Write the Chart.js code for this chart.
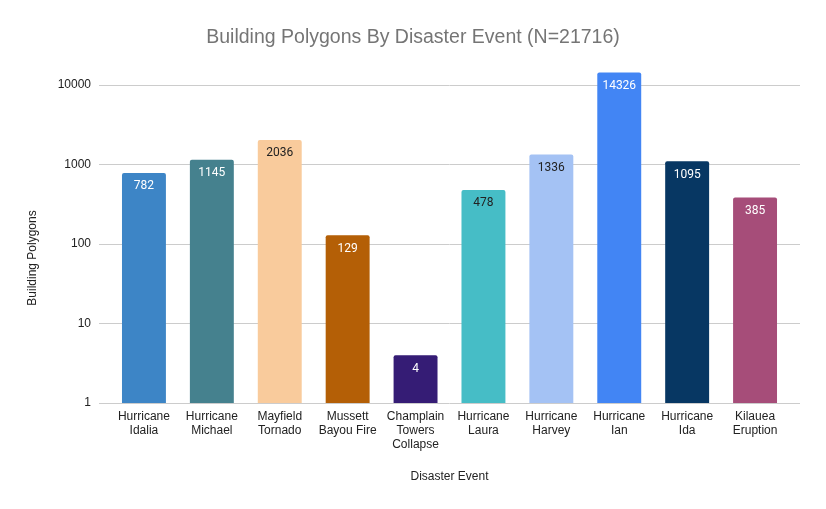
<!DOCTYPE html>
<html>
<head>
<meta charset="utf-8">
<script src="https://cdn.jsdelivr.net/npm/chart.js@4/dist/chart.umd.min.js"></script>
<style>
html,body{margin:0;padding:0;background:#fff;}
#wrap{width:826px;height:509px;position:relative;}
</style>
</head>
<body>
<div id="wrap"><canvas id="c" width="826" height="509"></canvas></div>
<script>
const chartTitle = "Building Polygons By Disaster Event (N=21716)";
const xAxisTitle = "Disaster Event";
const yAxisTitle = "Building Polygons";
const categories = [
  ["Hurricane","Idalia"],
  ["Hurricane","Michael"],
  ["Mayfield","Tornado"],
  ["Mussett","Bayou Fire"],
  ["Champlain","Towers","Collapse"],
  ["Hurricane","Laura"],
  ["Hurricane","Harvey"],
  ["Hurricane","Ian"],
  ["Hurricane","Ida"],
  ["Kilauea","Eruption"]
];
const values = [782, 1145, 2036, 129, 4, 478, 1336, 14326, 1095, 385];
const barColors = ["#3d85c6","#45818e","#f9cb9c","#b45f06","#351c75","#46bdc6","#a4c2f4","#4285f4","#073763","#a64d79"];
const labelColors = ["#ffffff","#ffffff","#222222","#ffffff","#ffffff","#222222","#222222","#ffffff","#ffffff","#ffffff"];
const yTicks = [1, 10, 100, 1000, 10000];

const gridPlugin = {
  id: 'gridPlugin',
  beforeDatasetsDraw(chart) {
    const ctx = chart.ctx, y = chart.scales.y, a = chart.chartArea;
    ctx.save();
    ctx.strokeStyle = '#cccccc';
    ctx.lineWidth = 1;
    yTicks.forEach(v => {
      const py = Math.round(y.getPixelForValue(v)) + 0.5;
      ctx.beginPath();
      ctx.moveTo(a.left - 11, py);
      ctx.lineTo(a.right + 11, py);
      ctx.stroke();
    });
    ctx.restore();
  },
  afterDatasetsDraw(chart) {
    const ctx = chart.ctx;
    const meta = chart.getDatasetMeta(0);
    ctx.save();
    ctx.font = '12px Roboto';
    ctx.textAlign = 'center';
    ctx.textBaseline = 'middle';
    meta.data.forEach((bar, i) => {
      ctx.fillStyle = labelColors[i];
      ctx.fillText(String(values[i]), bar.x, bar.y + 13.5);
    });
    // titles
    const a = chart.chartArea;
    ctx.fillStyle = '#757575';
    ctx.font = '19.5px "Liberation Sans"';
    ctx.fillText(chartTitle, 413, 38);
    ctx.fillStyle = '#222222';
    ctx.font = '12px "Liberation Sans"';
    ctx.fillText(xAxisTitle, (a.left + a.right) / 2, 477);
    ctx.translate(33, 258);
    ctx.rotate(-Math.PI / 2);
    ctx.fillText(yAxisTitle, 0, 0);
    ctx.restore();
  }
};

new Chart(document.getElementById('c'), {
  type: 'bar',
  data: {
    labels: categories,
    datasets: [{
      data: values,
      backgroundColor: barColors,
      borderRadius: 2,
      borderSkipped: 'start',
      categoryPercentage: 1,
      barPercentage: 0.647
    }]
  },
  options: {
    responsive: false,
    animation: false,
    devicePixelRatio: 1,
    layout: { padding: { left: 0, top: 71, right: 37, bottom: 0 } },
    plugins: { legend: { display: false }, title: { display: false }, tooltip: { enabled: false } },
    scales: {
      x: {
        grid: { display: false, drawTicks: false },
        border: { display: false },
        ticks: { color: '#222222', font: { family: 'Liberation Sans', size: 12, lineHeight: 1.2 }, padding: 6, maxRotation: 0, autoSkip: false },
        afterFit(s) { s.height = 106; }
      },
      y: {
        type: 'logarithmic',
        min: 1,
        max: 15000,
        grid: { display: false, drawTicks: false },
        border: { display: false },
        afterBuildTicks(s) { s.ticks = yTicks.map(v => ({ value: v })); },
        ticks: {
          color: '#222222',
          font: { family: 'Liberation Sans', size: 12 },
          padding: 19,
          callback: v => String(v)
        },
        afterFit(s) { s.width = 110; }
      }
    }
  },
  plugins: [gridPlugin]
});
</script>
</body>
</html>
